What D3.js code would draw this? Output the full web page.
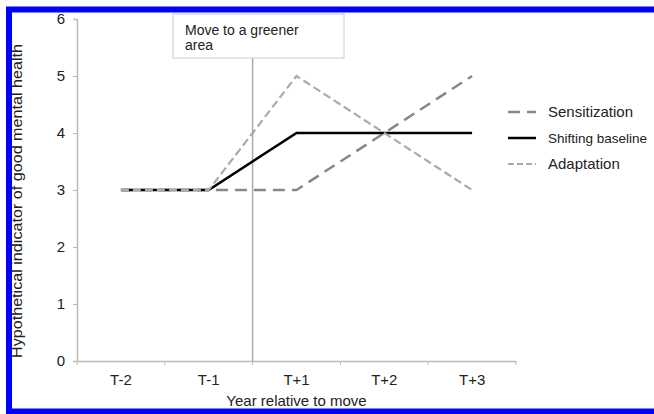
<!DOCTYPE html>
<html>
<head>
<meta charset="utf-8">
<script src="https://cdn.jsdelivr.net/npm/d3@7"></script>
<style>
  body { margin: 0; background: #fff; }
  svg { display: block; font-family: "Liberation Sans", Arial, sans-serif; }
</style>
</head>
<body>
<div id="chart"></div>
<script>
const categories = ['T-2', 'T-1', 'T+1', 'T+2', 'T+3'];
const sensitization = [3, 3, 3, 4, 5];
const shiftingBaseline = [3, 3, 4, 4, 4];
const adaptation = [3, 3, 5, 4, 3];
const yTicks = [0, 1, 2, 3, 4, 5, 6];
const seriesNames = ['Sensitization', 'Shifting baseline', 'Adaptation'];
const moveLabel = ['Move to a greener', 'area'];

const width = 654, height = 414;
const plot = { left: 77, right: 516, top: 19, bottom: 361 };

const svg = d3.select('#chart')
    .append('svg')
    .attr('width', width)
    .attr('height', height);

svg.append('rect')
    .attr('width', width).attr('height', height)
    .attr('fill', '#fff');

// blue frame (right side runs off the picture)
svg.append('rect')
    .attr('x', 9).attr('y', 9.5)
    .attr('width', 700).attr('height', 402)
    .attr('fill', 'none')
    .attr('stroke', '#0000ff')
    .attr('stroke-width', 6);

const x = d3.scaleBand()
    .domain(categories)
    .range([plot.left, plot.right]);

const y = d3.scaleLinear()
    .domain([0, 6])
    .range([plot.bottom, plot.top]);

// y axis
const yAxis = svg.append('g')
    .attr('transform', `translate(${plot.left},0)`)
    .call(d3.axisLeft(y).tickValues(yTicks).tickSize(4).tickPadding(8).tickFormat(d3.format('d')));
yAxis.select('.domain').attr('stroke', '#bbb').attr('stroke-width', 1.5);
yAxis.selectAll('.tick line').attr('stroke', '#bbb');
yAxis.selectAll('.tick text')
    .attr('fill', '#222')
    .style('font-size', '15px');

// x axis: labels in the bands, tick marks on the band edges
const xAxis = svg.append('g')
    .attr('transform', `translate(0,${plot.bottom})`)
    .call(d3.axisBottom(x).tickSize(0).tickPadding(13));
xAxis.select('.domain').attr('stroke', '#bbb').attr('stroke-width', 1.5);
xAxis.selectAll('.tick text')
    .attr('fill', '#222')
    .style('font-size', '15px');

const edges = categories.map(c => x(c)).concat([x.range()[1]]);
svg.append('g')
    .selectAll('line')
    .data(edges)
    .join('line')
    .attr('x1', d => d).attr('x2', d => d)
    .attr('y1', plot.bottom).attr('y2', plot.bottom + 4)
    .attr('stroke', '#bbb');

// axis titles
svg.append('text')
    .attr('x', (plot.left + plot.right) / 2)
    .attr('y', 406)
    .attr('text-anchor', 'middle')
    .attr('fill', '#222')
    .style('font-size', '15px')
    .text('Year relative to move');

svg.append('text')
    .attr('transform', 'translate(22,201) rotate(-90)')
    .attr('text-anchor', 'middle')
    .attr('fill', '#222')
    .attr('textLength', 314)
    .attr('lengthAdjust', 'spacingAndGlyphs')
    .style('font-size', '14px')
    .text('Hypothetical indicator of good mental health');

// the move marker
const moveX = x('T+1');
const box = { x: 173, y: 14, w: 171, h: 44 };
svg.append('line')
    .attr('x1', moveX).attr('x2', moveX)
    .attr('y1', box.y + box.h).attr('y2', plot.bottom)
    .attr('stroke', '#aaa')
    .attr('stroke-width', 1.5);

svg.append('rect')
    .attr('x', box.x).attr('y', box.y)
    .attr('width', box.w).attr('height', box.h)
    .attr('fill', '#fff')
    .attr('stroke', '#ccc');

svg.append('text')
    .attr('x', box.x + 12)
    .attr('y', box.y + 21)
    .attr('fill', '#222')
    .style('font-size', '14px')
    .selectAll('tspan')
    .data(moveLabel)
    .join('tspan')
    .attr('x', box.x + 12)
    .attr('dy', (d, i) => i === 0 ? 0 : 15)
    .text(d => d);

// lines
const styles = [
    { color: '#888', width: 2.5, dash: '12,7' },
    { color: '#000', width: 2.5, dash: null },
    { color: '#aaa', width: 2.2, dash: '8,4' }
];
const seriesValues = [sensitization, shiftingBaseline, adaptation];

const line = d3.line()
    .x((d, i) => x(categories[i]) + x.bandwidth() / 2)
    .y(d => y(d));

svg.append('g')
    .selectAll('path')
    .data(seriesValues)
    .join('path')
    .attr('d', d => line(d))
    .attr('fill', 'none')
    .attr('stroke', (d, i) => styles[i].color)
    .attr('stroke-width', (d, i) => styles[i].width)
    .attr('stroke-dasharray', (d, i) => styles[i].dash);

// legend
const legend = svg.append('g')
    .selectAll('g')
    .data(seriesNames)
    .join('g')
    .attr('transform', (d, i) => `translate(508,${112 + i * 26})`);

legend.append('line')
    .attr('x1', 0).attr('x2', 28)
    .attr('stroke', (d, i) => styles[i].color)
    .attr('stroke-width', (d, i) => styles[i].width)
    .attr('stroke-dasharray', (d, i) => i === 2 ? '6,3' : styles[i].dash);

// the long label is a bit smaller so it stays inside the picture
legend.append('text')
    .attr('x', 40)
    .attr('dy', '0.35em')
    .attr('fill', '#222')
    .style('font-size', d => d.length > 14 ? '13.5px' : '15px')
    .text(d => d);
</script>
</body>
</html>
